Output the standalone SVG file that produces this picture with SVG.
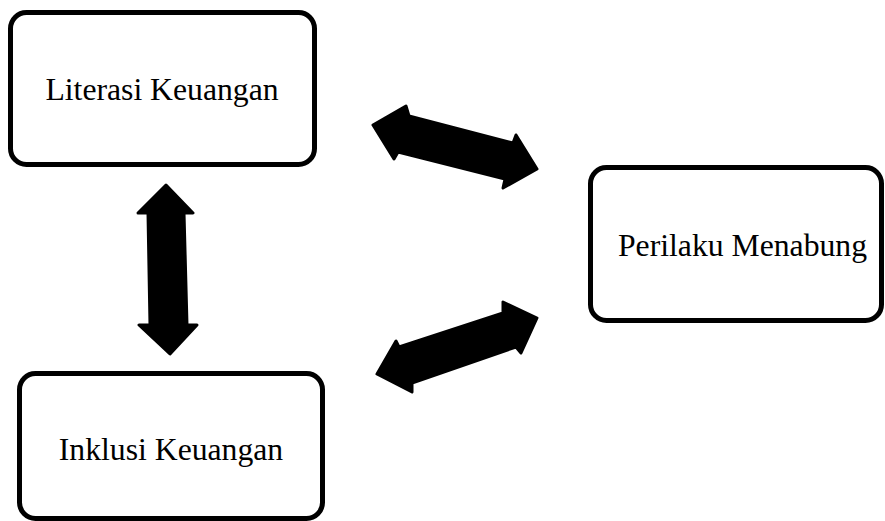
<svg xmlns="http://www.w3.org/2000/svg" width="885" height="521" viewBox="0 0 885 521">
<style>
.box{fill:#fff;stroke:#000;stroke-width:5}
.lbl{font-family:"Liberation Serif","Times New Roman",serif;font-size:31.7px;fill:#000;text-anchor:middle}
.arr{fill:#000;stroke:#000;stroke-width:3;stroke-linejoin:round}
</style>
<rect width="885" height="521" fill="#fff"/>
<g id="literasi">
<rect class="box" x="10.5" y="12.5" width="304" height="152" rx="16"/>
<text class="lbl" x="162" y="100">Literasi Keuangan</text>
</g>
<g id="perilaku">
<rect class="box" x="590.5" y="167.5" width="291" height="153" rx="16"/>
<text class="lbl" x="742.5" y="256">Perilaku Menabung</text>
</g>
<g id="inklusi">
<rect class="box" x="19.5" y="373.5" width="303" height="145" rx="16"/>
<text class="lbl" x="171" y="460">Inklusi Keuangan</text>
</g>
<g id="connectors">
<polygon class="arr" points="373,125 406,106 409,116 513,143 516,135 537,169 503,188 505,179 398,152 394,159"/>
<polygon class="arr" points="537,318 503,302 503,313 399,347 396,341 377,374 412,392 412,383 516,347 521,353"/>
<polygon class="arr" points="166,185 193,213 184,213 187,325 197,325 170,354 139,325 150,325 148,213 138,213"/>
</g>
</svg>
